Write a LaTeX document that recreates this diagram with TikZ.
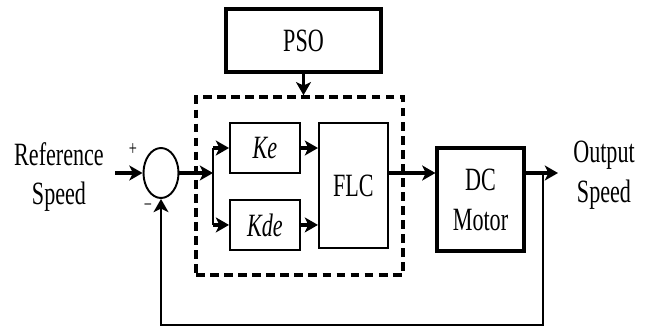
\documentclass[tikz,border=0pt]{standalone}
\usepackage{fontspec}
\setmainfont[FakeStretch=0.68]{Liberation Serif}
\usetikzlibrary{arrows.meta, positioning, shapes.geometric}
\newcommand{\bigtxt}{\fontsize{18.5}{22.7}\selectfont}
\tikzset{
  >={Stealth[length=7.5pt, width=8.5pt, inset=2pt]},
  blk/.style={rectangle, draw, line width=1.1pt, inner sep=0pt, align=center,
              minimum width=1.4cm, minimum height=1cm, font=\bigtxt},
  blkm/.style={blk, line width=1.8pt},
  blkp/.style={blk, line width=2.4pt},
  sumnode/.style={ellipse, draw, line width=1.1pt, inner sep=0pt,
                  minimum width=0.7cm, minimum height=1cm},
  ctrlbox/.style={rectangle, draw, line width=2pt, dash pattern=on 5pt off 3pt},
  flow/.style={->, line width=1.9pt},
  flowf/.style={->, line width=0.9pt},
  lbl/.style={align=center, font=\bigtxt},
  sgn/.style={font=\fontsize{12}{14}\selectfont, inner sep=0pt},
}

\begin{document}
\begin{tikzpicture}
  \useasboundingbox (0,0) rectangle (13.02,-6.54);
  \node[sumnode] (sum) at (3.22,-3.46) {};
  \node[lbl] (ref) at (1.18,-3.54) {Reference\\Speed};
  \node[sgn] (plus) at (2.66,-3.0) {+};
  \node[sgn] (minus) at (2.96,-4.16) {−};
  \node[blk] (ke) at (5.30,-2.96) {\itshape Ke};
  \node[blk, below=0.5cm of ke] (kde) {\itshape Kde};
  \node[blk, minimum width=1.38cm, minimum height=2.5cm,
        right=0.34cm of ke.north east, anchor=north west] (flc) {FLC};
  \node[ctrlbox, minimum width=4.14cm, minimum height=3.56cm] (ctrl) at (5.99,-3.72) {};
  \node[blkp, minimum width=3.1cm, minimum height=1.26cm] (pso) at (6.07,-0.81) {PSO};
  \node[blkm, minimum width=1.74cm, minimum height=2.06cm] (dc) at (9.61,-3.99) {DC\\Motor};
  \node[lbl] (outlbl) at (12.08,-3.5) {Output\\Speed};
  \coordinate (in) at (2.30,-3.46);
  \coordinate (split) at (4.26,-3.46);
  \coordinate (tap) at (10.86,-3.46);
  \coordinate (outp) at (11.16,-3.46);
  % signal path
  \draw[flow] (in) -- (sum);
  \draw[flow] (sum) -- (split);
  \draw[line width=1.1pt] (split |- ke) -- (split |- kde);
  \draw[flow] (split |- ke) -- (ke);
  \draw[flow] (split |- kde) -- (kde);
  \draw[flow] (ke) -- (ke -| flc.west);
  \draw[flow] (kde) -- (kde -| flc.west);
  \draw[flow] (flc.east |- sum) -- (dc.west |- sum);
  \draw[flow] (dc.east |- sum) -- (outp);
  \draw[flowf] (tap) -- ++(0,-3.04) -| (sum.south);
  \draw[flow] (pso) -- (pso |- ctrl.north);
\end{tikzpicture}
\end{document}
